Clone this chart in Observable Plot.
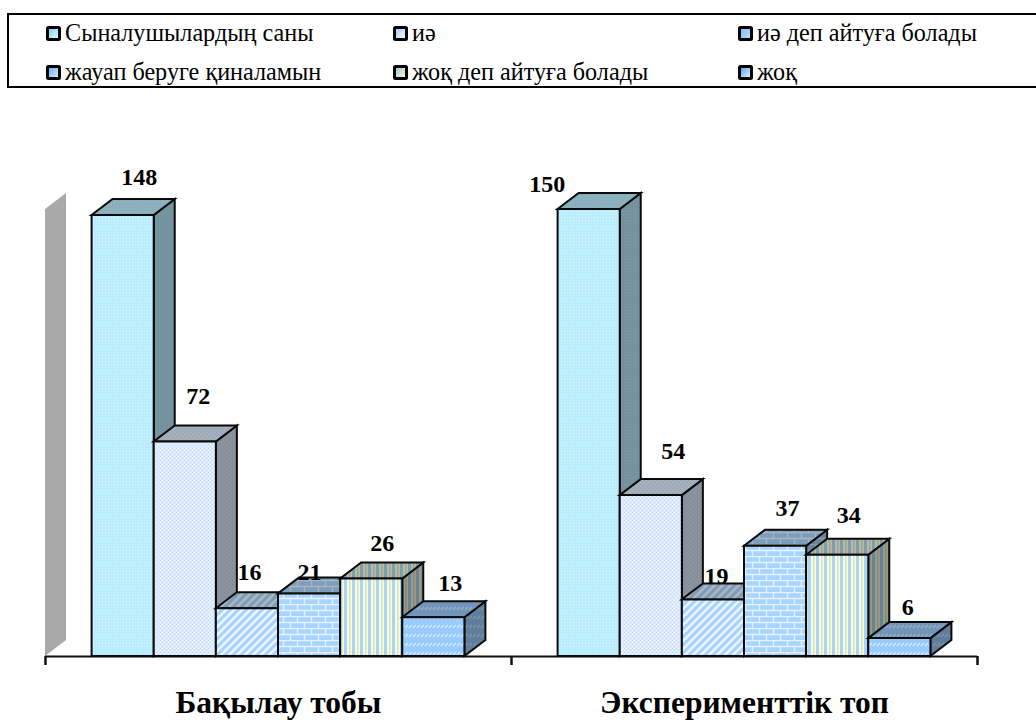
<!DOCTYPE html>
<html><head><meta charset="utf-8">
<script src="https://cdn.jsdelivr.net/npm/d3@7"></script>
<script src="https://cdn.jsdelivr.net/npm/@observablehq/plot@0.6"></script>
<style>
html,body{margin:0;padding:0;background:#fff;overflow:hidden}
#legend{position:relative;height:100px;width:1036px;font-family:"Liberation Serif",serif;font-size:24.2px;color:#000}
#box{position:absolute;left:7px;top:13px;right:-4px;height:71px;border:2.4px solid #000}
.item{position:absolute;display:flex;align-items:center;height:24px;white-space:nowrap}
.sw{width:9px;height:9px;border:3px solid #000;border-radius:2.5px;margin-right:4px;flex:none}
</style></head><body>
<div id="legend"><div id="box"></div></div>
<div id="chart"></div>
<script>
const groups = ["Бақылау тобы", "Эксперименттік топ"];
const series = ["Сыналушылардың саны", "иә", "иә деп айтуға болады", "жауап беруге қиналамын", "жоқ деп айтуға болады", "жоқ"];
const control = [148, 72, 16, 21, 26, 13];
const experimental = [150, 54, 19, 37, 34, 6];
const boundaries = [0, 7.5, 15];
const groupCentres = [3.75, 11.25];
const wallTop = 150;
// label nudges in px, from the reference
const labelDx = [[16, 13, 2, 0, 10.5, 16.5], [-42, 22, 3, 12, 11, 8]];
const labelDy = [[-38, -46, -37, -22, -36, -34], [-25, -44, -24, -38, -40, -31]];
const swatches = [["#7fd4f2","#dff8ff"],["#a6caf5","#f4f9ff"],["#7fbfff","#b8dcff"],["#6eb1f5","#cfe8ff"],["#9cc8f0","#fff7c0"],["#5aa6f5","#e2f1ff"]];

const bars = [control, experimental].flatMap((vals, g) =>
  vals.map((value, i) => ({g, i, value, x1: g * 7.5 + 0.75 + i, x2: g * 7.5 + 1.75 + i,
    dx: labelDx[g][i], dy: labelDy[g][i]})));

const legend = document.getElementById("legend");
series.forEach((s, i) => {
  const el = document.createElement("div");
  el.className = "item";
  el.style.left = [46, 393, 738][i % 3] + "px";
  el.style.top = (i < 3 ? 21 : 60) + "px";
  const sw = document.createElement("span");
  sw.className = "sw";
  sw.style.background = `linear-gradient(135deg, ${swatches[i][0]}, ${swatches[i][1]})`;
  el.append(sw, document.createTextNode(s));
  legend.append(el);
});

const DX = 21, DY = -16;
function poly(parent, pts, fill, extra) {
  const p = parent.append("polygon").attr("points", pts.map(d => d.join(",")).join(" ")).attr("fill", fill);
  if (extra) p.attr("stroke", "#0a0a0a").attr("stroke-width", 2).attr("stroke-linejoin", "miter");
  else p.attr("stroke", "none");
  return p;
}
function draw3d(index, scales, values) {
  const root = d3.select(document.createElementNS("http://www.w3.org/2000/svg", "g"));
  for (const k of index) {
    const x1 = values.x1[k], x2 = values.x2[k], yb = values.y1[k], yt = values.y2[k];
    const fill = `url(#p${bars[k].i})`;
    const side = [[x2, yt], [x2 + DX, yt + DY], [x2 + DX, yb + DY], [x2, yb]];
    const top = [[x1, yt], [x1 + DX, yt + DY], [x2 + DX, yt + DY], [x2, yt]];
    poly(root, side, fill);
    poly(root, side, "rgba(0,0,0,0.38)", true);
    poly(root, top, fill);
    poly(root, top, "rgba(0,0,0,0.26)", true);
    poly(root, [[x1, yt], [x2, yt], [x2, yb], [x1, yb]], fill, true);
  }
  return root.node();
}
function drawWall(index, scales, values) {
  const root = d3.select(document.createElementNS("http://www.w3.org/2000/svg", "g"));
  const x = values.x1[0], yb = values.y1[0], yt = values.y2[0];
  poly(root, [[x, yb], [x + DX, yb + DY], [x + DX, yt + DY], [x, yt]], "#a9a9a9");
  return root.node();
}

const plot = Plot.plot({
  width: 1036, height: 620,
  marginLeft: 45, marginRight: 59, marginTop: 109, marginBottom: 64,
  style: {fontFamily: '"Liberation Serif",serif', background: "transparent", overflow: "visible"},
  x: {domain: [0, 15]},
  y: {domain: [0, wallTop], axis: null},
  marks: [
    Plot.rect([wallTop], {x1: () => 0, x2: () => 0, y1: () => 0, y2: d => d, render: drawWall}),
    Plot.ruleY([0], {stroke: "#111", strokeWidth: 2.2}),
    Plot.rect(bars, {x1: "x1", x2: "x2", y1: () => 0, y2: "value", render: draw3d}),
    Plot.axisX({ticks: boundaries, tickSize: 9, tickFormat: () => "", strokeWidth: 2.5, stroke: "#111"}),
    ...bars.map(d => Plot.text([d], {x: e => (e.x1 + e.x2) / 2, y: "value", text: e => String(e.value),
      dx: d.dx, dy: d.dy, fontSize: 24, fontWeight: "bold", fill: "#000"})),
    Plot.text(groups, {x: (d, i) => groupCentres[i], y: () => 0, text: d => d, dy: 46,
      fontSize: 31.5, fontWeight: "bold", fill: "#000"})
  ]
});

const defs = `
<pattern id="p0" width="3" height="3" patternUnits="userSpaceOnUse"><rect width="3" height="3" fill="#bdeeff"/><rect width="1" height="1" fill="#cdf4ff"/><rect x="1.5" y="1.5" width="1" height="1" fill="#b2e8fb"/></pattern>
<pattern id="p1" width="4" height="4" patternUnits="userSpaceOnUse"><rect width="4" height="4" fill="#dbeafd"/><rect width="1" height="1" fill="#c6dcf9"/><rect x="2" y="2" width="1" height="1" fill="#cbe0fa"/><rect x="2" width="1" height="1" fill="#f2f8ff"/><rect y="2" width="1" height="1" fill="#f2f8ff"/></pattern>
<pattern id="p2" width="8" height="8" patternUnits="userSpaceOnUse"><rect width="8" height="8" fill="#a6d4ff"/><path d="M-2 2L2 -2M-2 10L10 -2M6 10L10 6" stroke="#ecf6ff" stroke-width="2.6" fill="none"/></pattern>
<pattern id="p3" width="14" height="12" patternUnits="userSpaceOnUse"><rect width="14" height="12" fill="#a8d5ff"/><path d="M0 .5H14M0 6.5H14M3.5 0V6M10.5 6V12" stroke="#e6f3ff" stroke-width="1.3" fill="none"/></pattern>
<pattern id="p4" width="8" height="8" patternUnits="userSpaceOnUse"><rect width="8" height="8" fill="#fdfdc8"/><rect x="0" width="3" height="8" fill="#a9d3f7"/><rect x="5" width="1.5" height="8" fill="#c6e2ea"/></pattern>
<pattern id="p5" width="8" height="9" patternUnits="userSpaceOnUse"><rect width="8" height="9" fill="#98cbff"/><path d="M1 6L4 3M5 6L8 3" stroke="#d6ebff" stroke-width="1.4" fill="none"/></pattern>`;
const d = d3.select(plot).insert("defs", ":first-child").node();
d.innerHTML = defs;
document.getElementById("chart").append(plot);
</script>
</body></html>
